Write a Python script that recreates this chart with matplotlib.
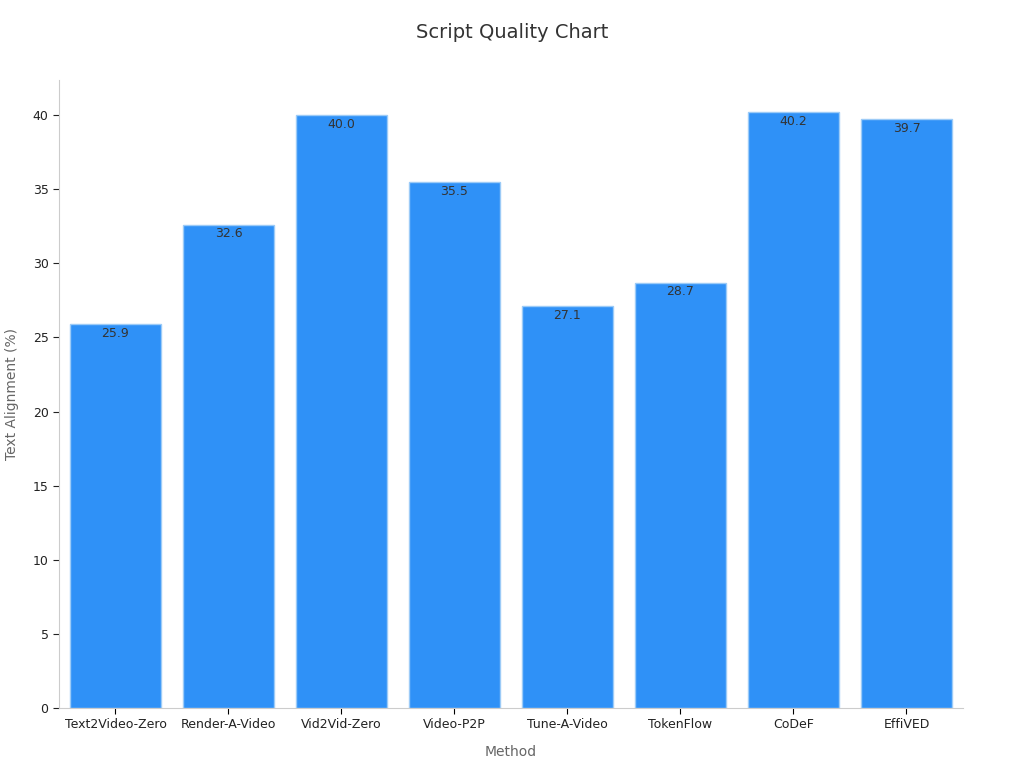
import matplotlib
matplotlib.use("Agg")
import matplotlib.pyplot as plt

# Chart data
methods = ["Text2Video-Zero", "Render-A-Video", "Vid2Vid-Zero", "Video-P2P",
           "Tune-A-Video", "TokenFlow", "CoDeF", "EffiVED"]
alignment = [25.9, 32.6, 40.0, 35.5, 27.1, 28.7, 40.2, 39.7]

fig = plt.figure(figsize=(10.24, 7.68), dpi=100)
ax = fig.add_axes([0.0576, 0.0781, 0.8828, 0.8177])

bars = ax.bar(range(len(methods)), alignment, width=0.8,
              color="#2F91F7", edgecolor="#9CCBF7", linewidth=1)

# value labels just inside the top of each bar
for b, v in zip(bars, alignment):
    ax.annotate(f"{v:.1f}", (b.get_x() + b.get_width() / 2, b.get_height()),
                xytext=(0, -2), textcoords="offset points",
                ha="center", va="top", fontsize=9, color="#333333")

ax.set_xticks(range(len(methods)))
ax.set_xticklabels(methods, fontsize=9, color="#222222")
ax.set_xlim(-0.5, len(methods) - 0.5)
ax.set_ylim(0, 42.36)
ax.set_yticks(range(0, 45, 5))
ax.tick_params(axis="y", labelsize=9, colors="#222222", length=4)
ax.tick_params(axis="x", length=4)

for s in ["top", "right"]:
    ax.spines[s].set_visible(False)
for s in ["left", "bottom"]:
    ax.spines[s].set_color("#CCCCCC")

ax.set_xlabel("Method", fontsize=10, color="#666666", labelpad=10)
ax.set_ylabel("Text Alignment (%)", fontsize=10, color="#666666", labelpad=10)
fig.suptitle("Script Quality Chart", fontsize=14, color="#333333",
             fontfamily="DejaVu Sans", y=0.97)

fig.savefig("out.png", dpi=100)
